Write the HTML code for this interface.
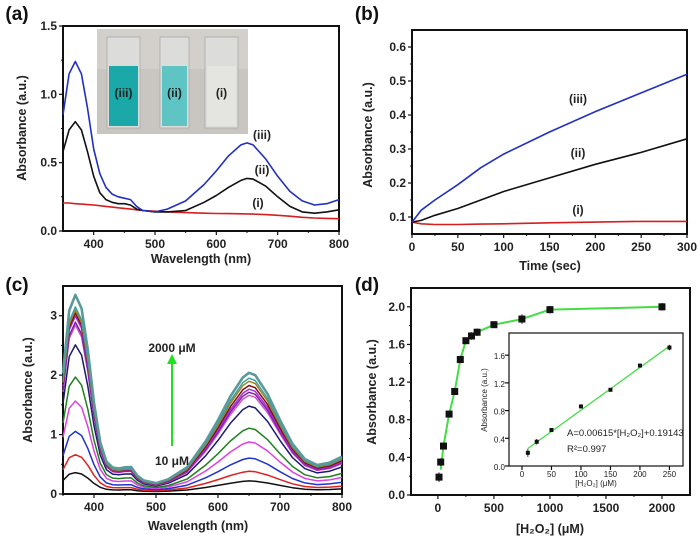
<!DOCTYPE html>
<html><head><meta charset="utf-8"><style>
body{margin:0;background:#fff}
svg{display:block;font-family:"Liberation Sans",Arial,sans-serif}
.t{font-size:12px;font-weight:bold;fill:#222}
.at{font-size:12.5px;font-weight:bold;fill:#222}
.pl{font-size:19px;font-weight:bold;fill:#111}
</style></head><body>
<svg id="s" width="700" height="542" viewBox="0 0 700 542" xmlns="http://www.w3.org/2000/svg"></svg>
<script>
// ---------- data ----------
const wl = [350,360,370,380,390,400,410,420,430,440,450,460,470,480,500,520,550,580,600,620,640,650,660,680,700,720,740,760,780,800];
const aIII = [0.85,1.15,1.24,1.15,0.9,0.6,0.42,0.32,0.27,0.25,0.24,0.23,0.18,0.15,0.14,0.16,0.22,0.34,0.44,0.55,0.63,0.645,0.63,0.53,0.40,0.29,0.22,0.19,0.20,0.23];
const aII = [0.58,0.74,0.80,0.74,0.58,0.40,0.28,0.23,0.21,0.20,0.20,0.19,0.16,0.15,0.14,0.14,0.15,0.21,0.26,0.32,0.37,0.385,0.38,0.33,0.25,0.18,0.14,0.13,0.14,0.155];
const aI = [0.205,0.205,0.20,0.197,0.193,0.19,0.185,0.18,0.175,0.17,0.165,0.16,0.155,0.15,0.145,0.14,0.135,0.13,0.128,0.127,0.126,0.125,0.124,0.12,0.115,0.108,0.1,0.095,0.092,0.09];
const tB = [0,10,25,50,75,100,150,200,250,300];
const bIII = [0.085,0.12,0.15,0.195,0.245,0.285,0.35,0.41,0.465,0.52];
const bII = [0.085,0.09,0.105,0.125,0.15,0.175,0.215,0.255,0.29,0.33];
const bI = [0.085,0.08,0.078,0.078,0.079,0.08,0.083,0.085,0.087,0.087];
const uvShape = [0.6,0.92,1,0.93,0.72,0.45,0.25,0.15,0.12,0.115,0.115,0.11,0.06,0.03,0.01,0,0,0,0,0,0,0,0,0,0,0,0,0,0,0];
const visShape = [0,0,0,0,0,0,0,0,0,0,0.01,0.02,0.03,0.04,0.05,0.1,0.2,0.42,0.6,0.8,0.96,1,0.98,0.82,0.6,0.4,0.27,0.22,0.24,0.29];
const cPeakUV = [0.33,0.63,1.02,1.53,1.93,2.47,2.8,2.85,2.95,3.0,3.05,3.1,3.3];
const cPeakVis = [0.19,0.35,0.57,0.84,1.07,1.44,1.62,1.67,1.72,1.78,1.85,1.9,1.99];
const cColors = ["#111","#d22","#2233cc","#e040e0","#208020","#1a1a70","#d050d0","#8020a0","#a030e0","#801010","#a08020","#40a0a0","#5a9a9a"];
const dX = [10,25,50,100,150,200,250,300,350,500,750,1000,2000];
const dY = [0.19,0.35,0.52,0.86,1.10,1.44,1.64,1.69,1.73,1.81,1.87,1.97,2.00];
const dErr = [0.05,0.04,0.02,0.02,0.02,0.04,0.02,0.04,0.04,0.02,0.05,0.04,0.04];
const iX = [10,25,50,100,150,200,250];
const iY = [0.19,0.35,0.52,0.86,1.10,1.45,1.71];
const iErr = [0.06,0.04,0.02,0.01,0.01,0.02,0.04];
const fitSlope = 0.00615, fitInt = 0.19143;

// ---------- helpers ----------
const svg = document.getElementById('s');
const NS = "http://www.w3.org/2000/svg";
function mk(tag, at, parent){const e=document.createElementNS(NS,tag);for(const k in at)e.setAttribute(k,at[k]);(parent||svg).appendChild(e);return e;}
function scale(d0,d1,r0,r1){return v=>r0+(v-d0)*(r1-r0)/(d1-d0);}
function txt(x,y,s,cls,anchor,name,rot){const e=mk('text',{x:x,y:y,class:cls,'text-anchor':anchor||'middle'});if(rot)e.setAttribute('transform',`rotate(-90 ${x} ${y})`);e.textContent=s;


return e;}
function frame(L,T,R,B,xs,ys,xt,yt,xlab,ylab,name,fs,minorX,minorY){
  const g=mk('g',{});
  
  
  mk('rect',{x:L,y:T,width:R-L,height:B-T,fill:'none',stroke:'#111','stroke-width':fs?1.2:2},g);
  xt.forEach((v,i)=>{const x=xs(v);mk('line',{x1:x,y1:B,x2:x,y2:B+4,stroke:'#111','stroke-width':1.2},g);
    const t=txt(x,B+(fs?11:17),xlab[i],'t','middle','x-tick-label');if(fs)t.setAttribute('style','font-size:8px;font-weight:normal');});
  yt.forEach((v,i)=>{const y=ys(v);mk('line',{x1:L,y1:y,x2:L-4,y2:y,stroke:'#111','stroke-width':1.2},g);
    const t=txt(L-(fs?4:6),y+4,ylab[i],'t','end','y-tick-label');if(fs)t.setAttribute('style','font-size:8px;font-weight:normal');});
  (minorX||[]).forEach(v=>{const x=xs(v);mk('line',{x1:x,y1:B,x2:x,y2:B+2,stroke:'#111'},g);});
  (minorY||[]).forEach(v=>{const y=ys(v);mk('line',{x1:L,y1:y,x2:L-2,y2:y,stroke:'#111'},g);});
}
function line(xsArr,ysArr,xs,ys,color,w,name){
  const d=xsArr.map((v,i)=>(i?'L':'M')+xs(v).toFixed(1)+','+ys(ysArr[i]).toFixed(1)).join(' ');
  const p=mk('path',{d:d,fill:'none',stroke:color,'stroke-width':w,'stroke-linejoin':'round'});
  
  
  return p;
}

// ---------- panel a ----------
{
 const L=63,R=339,T=26,B=231;
 const xs=scale(350,800,L,R), ys=scale(0,1.5,B,T);
 frame(L,T,R,B,xs,ys,[400,500,600,700,800],[0,0.5,1,1.5],['400','500','600','700','800'],['0.0','0.5','1.0','1.5'],'panel-a-axes',false,[450,550,650,750],[0.25,0.75,1.25]);
 line(wl,aI,xs,ys,'#d42020',1.6,'curve-a-i');
 line(wl,aII,xs,ys,'#111',1.6,'curve-a-ii');
 line(wl,aIII,xs,ys,'#2030c0',1.6,'curve-a-iii');
 const g=mk('g',{});
 
 
 mk('rect',{x:97,y:29,width:151,height:105,fill:'#c9c6c2'},g);
 mk('rect',{x:97,y:29,width:151,height:40,fill:'#d3d0cc'},g);
 [[107,140,'#1aa8a8','(iii)'],[160,189,'#5ec4c4','(ii)'],[205,238,'#e4e4e0','(i)']].forEach(c=>{
   mk('rect',{x:c[0],y:37,width:c[1]-c[0],height:91,fill:'#dcdcda',stroke:'#aaa','stroke-width':0.8},g);
   mk('rect',{x:c[0]+2,y:66,width:c[1]-c[0]-4,height:60,fill:c[2]},g);
   txt((c[0]+c[1])/2,97,c[3],'t','middle','cuvette-label');
 });
 txt(262,139,'(iii)','t','middle','label-iii');
 txt(262,174,'(ii)','t','middle','label-ii');
 txt(258,207,'(i)','t','middle','label-i');
 txt(201,263,'Wavelength (nm)','at','middle','x-axis-title');
 txt(26,128,'Absorbance (a.u.)','at','middle','y-axis-title',true);
 txt(17,20,'(a)','pl','middle','panel-label-a');
}
// ---------- panel b ----------
{
 const L=412,R=687,T=30,B=234;
 const xs=scale(0,300,L,R), ys=scale(0.05,0.65,B,T);
 frame(L,T,R,B,xs,ys,[0,50,100,150,200,250,300],[0.1,0.2,0.3,0.4,0.5,0.6],['0','50','100','150','200','250','300'],['0.1','0.2','0.3','0.4','0.5','0.6'],'panel-b-axes',false,[25,75,125,175,225,275],[0.15,0.25,0.35,0.45,0.55]);
 line(tB,bI,xs,ys,'#d42020',1.6,'curve-b-i');
 line(tB,bII,xs,ys,'#111',1.6,'curve-b-ii');
 line(tB,bIII,xs,ys,'#2030c0',1.6,'curve-b-iii');
 txt(578,103,'(iii)','t','middle','label-iii');
 txt(578,157,'(ii)','t','middle','label-ii');
 txt(578,214,'(i)','t','middle','label-i');
 txt(550,270,'Time (sec)','at','middle','x-axis-title');
 txt(372,135,'Absorbance (a.u.)','at','middle','y-axis-title',true);
 txt(367,20,'(b)','pl','middle','panel-label-b');
}
// ---------- panel c ----------
{
 const L=63,R=342,T=286,B=494;
 const xs=scale(350,800,L,R), ys=scale(0,3.5,B,T);
 frame(L,T,R,B,xs,ys,[400,500,600,700,800],[0,1,2,3],['400','500','600','700','800'],['0','1','2','3'],'panel-c-axes',false,[350,450,550,650,750],[0.5,1.5,2.5]);
 cPeakUV.forEach((p,k)=>{
   const y=wl.map((w,i)=>p*uvShape[i]+cPeakVis[k]*visShape[i]+0.03+0.02*k/12);
   line(wl,y,xs,ys,cColors[k],k==12?2.6:1.5,'spectrum-c-'+k);
 });
 const a=mk('line',{x1:172,y1:446,x2:172,y2:362,stroke:'#20e020','stroke-width':2});
 
 
 mk('polygon',{points:'167,364 177,364 172,354',fill:'#20e020'});
 txt(172,352,'2000 μM','t','middle','label-2000uM');
 txt(172,465,'10 μM','t','middle','label-10uM');
 txt(198,530,'Wavelength (nm)','at','middle','x-axis-title');
 txt(32,390,'Absorbance (a.u.)','at','middle','y-axis-title',true);
 txt(17,291,'(c)','pl','middle','panel-label-c');
}
// ---------- panel d ----------
{
 const L=411,R=690,T=288,B=495;
 const xs=scale(-240,2250,L,R), ys=scale(0,2.2,B,T);
 frame(L,T,R,B,xs,ys,[0,500,1000,1500,2000],[0,0.4,0.8,1.2,1.6,2.0],['0','500','1000','1500','2000'],['0.0','0.4','0.8','1.2','1.6','2.0'],'panel-d-axes',false,[250,750,1250,1750],[0.2,0.6,1.0,1.4,1.8]);
 line(dX.slice(1),dY.slice(1).map((v,i)=>i==0?0.27:v),xs,ys,'#44dd44',2,'fit-curve-d');
 dX.forEach((x,i)=>{
   const cx=xs(x),cy=ys(dY[i]);
   mk('line',{x1:cx,y1:ys(dY[i]+dErr[i]),x2:cx,y2:ys(dY[i]-dErr[i]),stroke:'#111','stroke-width':1});
   const r=mk('rect',{x:cx-3.5,y:cy-3.5,width:7,height:7,fill:'#111'});
   
   
 });
 txt(550,533,'[H₂O₂] (μM)','at','middle','x-axis-title');
 txt(376,392,'Absorbance (a.u.)','at','middle','y-axis-title',true);
 txt(367,291,'(d)','pl','middle','panel-label-d');
 const iL=509,iR=683,iT=333,iB=466;
 const ixs=scale(-22,273,iL,iR), iys=scale(0,1.92,iB,iT);
 mk('rect',{x:iL,y:iT,width:iR-iL,height:iB-iT,fill:'#fff'});
 frame(iL,iT,iR,iB,ixs,iys,[0,50,100,150,200,250],[0,0.4,0.8,1.2,1.6],['0','50','100','150','200','250'],['0.0','0.4','0.8','1.2','1.6'],'inset-axes',true);
 const fx=[10,250];
 line(fx,fx.map(v=>fitSlope*v+fitInt),ixs,iys,'#44dd44',1.3,'inset-fit-line');
 iX.forEach((x,i)=>{
   const cx=ixs(x),cy=iys(iY[i]);
   mk('line',{x1:cx,y1:iys(iY[i]+iErr[i]),x2:cx,y2:iys(iY[i]-iErr[i]),stroke:'#111','stroke-width':0.8});
   const r=mk('rect',{x:cx-2,y:cy-2,width:4,height:4,fill:'#111'});
   
   
 });
 const e1=txt(567,436,'A=0.00615*[H₂O₂]+0.19143','t','start','equation');e1.setAttribute('style','font-size:9.5px;font-weight:normal');
 const e2=txt(567,452,'R²=0.997','t','start','r-squared');e2.setAttribute('style','font-size:9.5px;font-weight:normal');
 const e3=txt(596,486,'[H₂O₂] (μM)','t','middle','inset-x-title');e3.setAttribute('style','font-size:8px;font-weight:normal');
 const e4=txt(487,400,'Absorbance (a.u.)','t','middle','inset-y-title',true);e4.setAttribute('style','font-size:8px;font-weight:normal');
}
</script>
</body></html>
